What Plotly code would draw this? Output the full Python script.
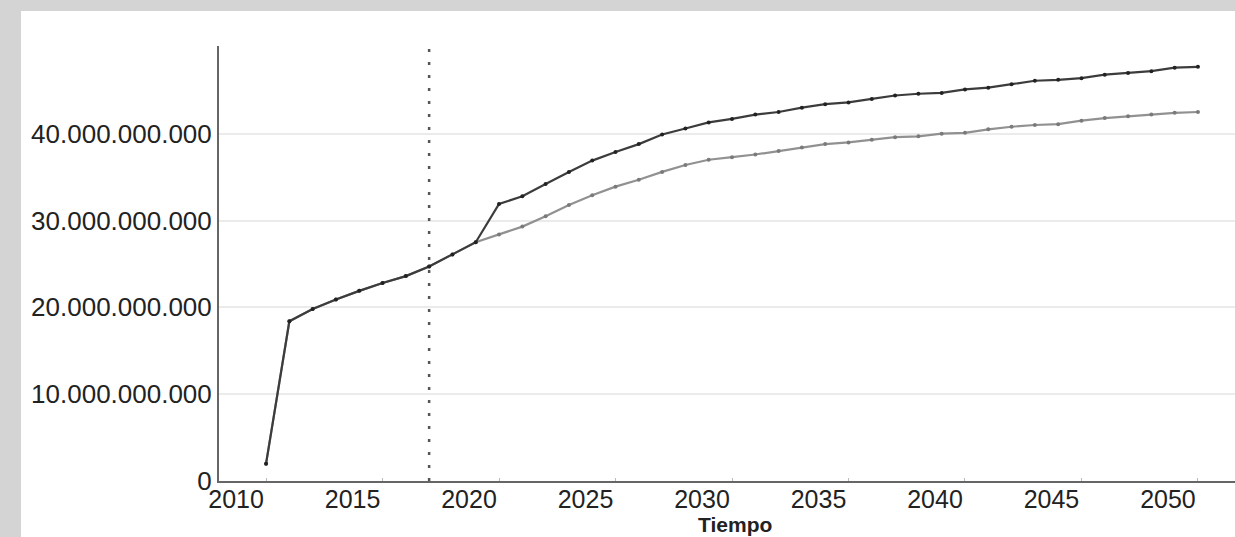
import plotly.graph_objects as go

# Years simulated
years = list(range(2010, 2051))

# Shared history 2010-2019 (miles de millones)
history = [2.0, 18.4, 19.8, 20.9, 21.9, 22.8, 23.6, 24.7, 26.1, 27.5]

# Scenario with the step in 2020 (upper curve), 2020-2050
scenario_high = [31.9, 32.8, 34.2, 35.6, 36.9, 37.9, 38.8, 39.9, 40.6, 41.3,
                 41.7, 42.2, 42.5, 43.0, 43.4, 43.6, 44.0, 44.4, 44.6, 44.7,
                 45.1, 45.3, 45.7, 46.1, 46.2, 46.4, 46.8, 47.0, 47.2, 47.6, 47.7]

# Reference scenario (lower curve), 2020-2050
scenario_base = [28.4, 29.3, 30.5, 31.8, 32.9, 33.9, 34.7, 35.6, 36.4, 37.0,
                 37.3, 37.6, 38.0, 38.4, 38.8, 39.0, 39.3, 39.6, 39.7, 40.0,
                 40.1, 40.5, 40.8, 41.0, 41.1, 41.5, 41.8, 42.0, 42.2, 42.4, 42.5]

# Marker for the current year
current_year = 2017

y_tick_vals = [0, 10e9, 20e9, 30e9, 40e9]
y_tick_text = ["0", "10.000.000.000", "20.000.000.000", "30.000.000.000", "40.000.000.000"]
x_tick_vals = [2010, 2015, 2020, 2025, 2030, 2035, 2040, 2045, 2050]

BN = 1e9
base_series = [v * BN for v in history + scenario_base]
high_series = [v * BN for v in history + scenario_high]

FONT = "Liberation Sans, Arial, sans-serif"

fig = go.Figure()
fig.add_trace(go.Scatter(
    x=years, y=base_series, mode="lines+markers", name="base",
    line=dict(color="#919191", width=2.2),
    marker=dict(size=4, color="#7a7a7a"),
    showlegend=False,
))
fig.add_trace(go.Scatter(
    x=years, y=high_series, mode="lines+markers", name="alto",
    line=dict(color="#3c3c3c", width=2.2),
    marker=dict(size=4, color="#222222"),
    showlegend=False,
))

fig.add_shape(type="line", xref="x", yref="paper",
              x0=current_year, x1=current_year, y0=0, y1=1,
              line=dict(color="#555555", width=2.5, dash="3px,10px"))

# grey frame around the white panel
fig.add_shape(type="rect", xref="paper", yref="paper",
              x0=-0.3, x1=-0.1949, y0=-0.2, y1=1.2,
              fillcolor="#d4d4d4", line=dict(width=0), layer="above")
fig.add_shape(type="rect", xref="paper", yref="paper",
              x0=-0.3, x1=1.1, y0=1.0805, y1=1.2,
              fillcolor="#d4d4d4", line=dict(width=0), layer="above")

fig.add_annotation(text="Tiempo", xref="paper", yref="paper",
                   x=0.508, y=-0.1, xanchor="center", yanchor="middle",
                   showarrow=False,
                   font=dict(family=FONT, size=21, color="#222222", weight="bold"))

fig.update_layout(
    width=1235, height=537,
    margin=dict(l=219, r=0, t=46, b=56),
    paper_bgcolor="white", plot_bgcolor="white",
    font=dict(family=FONT, size=24, color="#222222"),
)
fig.update_xaxes(
    range=[2007.98, 2051.59], tickvals=x_tick_vals,
    showgrid=False, zeroline=False,
    showline=True, linecolor="#666666", linewidth=2,
    ticks="inside", ticklen=3, tickcolor="#bbbbbb",
    ticklabelshift=-30, ticklabelstandoff=-5,
    tickfont=dict(family=FONT, size=25, color="#222222"),
)
fig.update_yaxes(
    range=[0, 50.1e9], tickvals=y_tick_vals, ticktext=y_tick_text,
    showgrid=True, gridcolor="#ebebeb", gridwidth=1.5, zeroline=False,
    showline=True, linecolor="#666666", linewidth=2,
    ticks="", ticklabelstandoff=0,
    tickfont=dict(family=FONT, size=26, color="#222222"),
)

fig.write_html("out.html")
